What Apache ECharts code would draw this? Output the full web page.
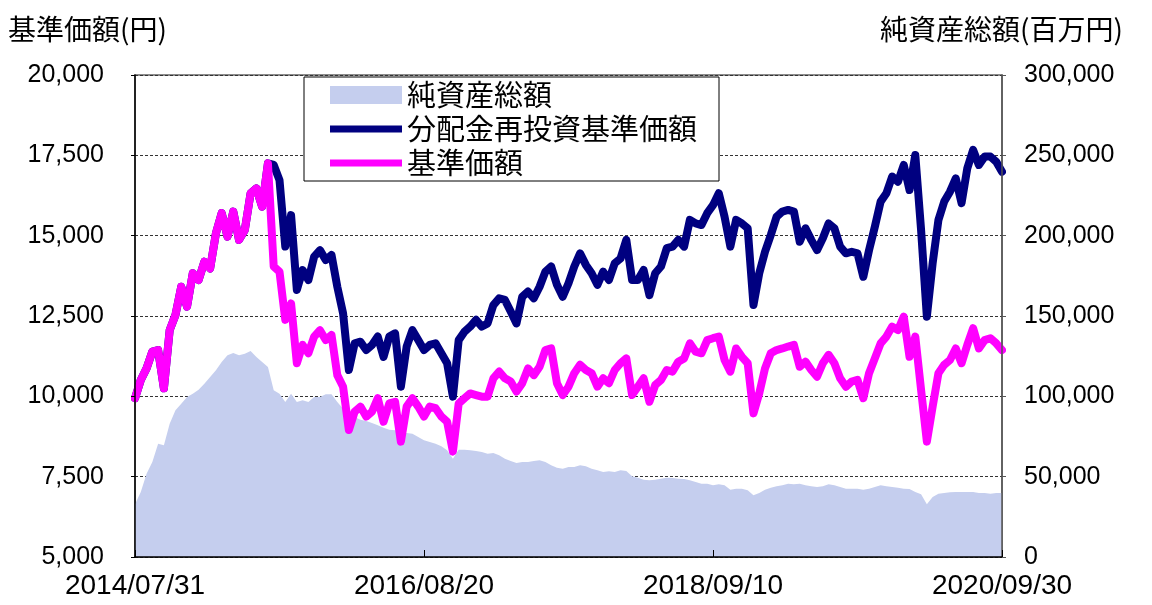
<!DOCTYPE html>
<html>
<head>
<meta charset="utf-8">
<script src="https://cdn.jsdelivr.net/npm/echarts@6/dist/echarts.min.js"></script>
<style>
html,body{margin:0;padding:0;background:#fff;}
#chart{width:1152px;height:605px;}
</style>
</head>
<body>
<div id="chart"></div>
<script>
// x tick labels (dates at index 0, 50, 100, 150)
var tickLabels = ['2014/07/31', '2016/08/20', '2018/09/10', '2020/09/30'];

// 基準価額 (円)
var priceValues = [
  9940, 10510, 10870, 11390, 11440, 10250, 12060, 12530, 13410, 12790,
  13830, 13620, 14190, 13980, 15070, 15700, 14970, 15750, 14870, 15180,
  16320, 16470, 15900, 17250, 14040, 13880, 12380, 12890, 11030, 11600,
  11340, 11860, 12060, 11750, 11910, 10660, 10300, 8950, 9520, 9680,
  9370, 9520, 9940, 9210, 9780, 9830, 8590, 9680, 9940, 9680,
  9370, 9680, 9630, 9370, 9210, 8280, 9780, 9940, 10090, 10040,
  9990, 9990, 10560, 10770, 10560, 10460, 10150, 10410, 10870, 10660,
  10920, 11440, 11490, 10410, 10040, 10300, 10720, 10980, 10820, 10720,
  10300, 10560, 10410, 10820, 11030, 11180, 10040, 10300, 10560, 9830,
  10350, 10510, 10820, 10770, 11080, 11180, 11650, 11390, 11340, 11750,
  11810, 11860, 11130, 10770, 11490, 11230, 11030, 9470, 10090, 10870,
  11340, 11440, 11490, 11550, 11600, 10920, 11080, 10820, 10610, 11030,
  11290, 11030, 10560, 10300, 10460, 10510, 9940, 10720, 11180, 11650,
  11860, 12170, 12060, 12480, 11230, 11860, 10200, 8590, 9680, 10720,
  10980, 11130, 11490, 11030, 11600, 12120, 11490, 11750, 11810, 11650,
  11440
];

// 分配金再投資基準価額 (円)
var reinvestValues = [
  9940, 10510, 10870, 11390, 11440, 10250, 12060, 12530, 13410, 12790,
  13830, 13620, 14190, 13980, 15070, 15700, 14970, 15750, 14870, 15180,
  16320, 16470, 15900, 17250, 17200, 16730, 14660, 15640, 13310, 13930,
  13620, 14350, 14550, 14240, 14400, 13410, 12580, 10820, 11650, 11700,
  11440, 11600, 11860, 11230, 11860, 11960, 10300, 11550, 12060, 11750,
  11440, 11600, 11650, 11340, 11030, 9990, 11750, 12010, 12170, 12380,
  12170, 12270, 12840, 13050, 13000, 12640, 12270, 13100, 13260, 13050,
  13410, 13880, 14040, 13470, 13100, 13520, 14040, 14450, 14090, 13830,
  13470, 13880, 13620, 14140, 14290, 14870, 13620, 13620, 13930, 13150,
  13830, 14040, 14610, 14660, 14870, 14660, 15490, 15380, 15330, 15700,
  15950, 16320, 15590, 14660, 15490, 15380, 15230, 12840, 13830, 14500,
  15020, 15590, 15750, 15800, 15750, 14810, 15230, 14870, 14550, 14920,
  15380, 15230, 14660, 14450, 14500, 14450, 13720, 14550, 15280, 16060,
  16320, 16840, 16680, 17200, 16420, 17510, 15180, 12480, 14140, 15490,
  16060, 16370, 16780, 16010, 17100, 17670, 17200, 17460, 17460, 17300,
  16990
];

// 純資産総額 (百万円)
var assetValues = [
  32780, 40460, 51870, 59130, 70540, 69500, 82990, 91290, 95440, 99590,
  101660, 104150, 107880, 112030, 116180, 121370, 125520, 126970, 125520, 126560,
  128220, 124480, 121370, 118260, 103740, 101660, 96470, 101660, 96470, 97510,
  96470, 99590, 99590, 101250, 101250, 96470, 92320, 87550, 87140, 85480,
  84650, 83400, 81950, 80500, 79250, 78840, 76760, 77180, 76760, 74690,
  72620, 71580, 70540, 68880, 66390, 61200, 66810, 66810, 66390, 65980,
  65350, 64320, 64730, 63280, 61200, 59750, 58510, 59130, 59130, 59750,
  60170, 59130, 57050, 55600, 54980, 56020, 56020, 57050, 56430, 54980,
  53940, 52910, 53320, 52910, 53940, 53530, 50210, 49380, 48130, 47720,
  48130, 48760, 49380, 49170, 48760, 48550, 47720, 46680, 45640, 45640,
  44610, 45230, 44610, 41910, 42530, 42530, 41490, 38380, 39830, 41910,
  43150, 43980, 44610, 45640, 45230, 45640, 44610, 43980, 43570, 43980,
  45230, 44610, 43570, 42530, 42530, 42530, 41910, 42530, 43570, 44610,
  43980, 43570, 43150, 42530, 42320, 40460, 39000, 32780, 37350, 39420,
  39830, 40250, 40460, 40460, 40460, 40460, 39830, 39830, 39420, 39830,
  39830
];

var seriesNames = ['純資産総額', '分配金再投資基準価額', '基準価額'];
var colors = ['#c5ceee', '#000080', '#ff00ff'];

function toPairs(arr) {
  return arr.map(function (v, i) { return [i, v]; });
}
var lastIndex = priceValues.length - 1;
var tickStep = lastIndex / (tickLabels.length - 1);

var numFont = 'Liberation Sans, Arial, sans-serif';
var cjkFont = 'Noto Sans CJK JP, sans-serif';

function fmt(v) { return v.toLocaleString('en-US'); }

var chart = echarts.init(document.getElementById('chart'), null, {renderer: 'canvas'});
var linePath = 'path://M0,0H80V8H0Z';

chart.setOption({
  animation: false,
  backgroundColor: '#ffffff',
  title: [
    {text: '基準価額(円)', left: 3, top: 10,
     textStyle: {fontSize: 28, fontWeight: 'normal', color: '#000', fontFamily: cjkFont}},
    {text: '純資産総額(百万円)', right: 24, top: 10,
     textStyle: {fontSize: 28, fontWeight: 'normal', color: '#000', fontFamily: cjkFont}}
  ],
  legend: {
    orient: 'vertical',
    left: 304, top: 77,
    padding: [3, 22, 3, 26],
    itemGap: 4,
    itemWidth: 72,
    itemHeight: 18,
    backgroundColor: '#ffffff',
    borderColor: '#000',
    borderWidth: 1,
    textStyle: {fontSize: 29, lineHeight: 30, color: '#000', fontFamily: cjkFont},
    data: [
      {name: seriesNames[0], icon: 'rect'},
      {name: seriesNames[1], icon: linePath},
      {name: seriesNames[2], icon: linePath}
    ]
  },
  grid: {left: 135, right: 150, top: 75, bottom: 48, show: true,
         borderColor: '#666', borderWidth: 1.5},
  xAxis: {
    type: 'value', min: 0, max: lastIndex, interval: tickStep, z: 10,
    axisLine: {show: true, lineStyle: {color: '#000', width: 1.5}},
    axisTick: {show: true, inside: true, length: 7, lineStyle: {color: '#000'}},
    splitLine: {show: false},
    axisLabel: {
      fontSize: 28, color: '#000', fontFamily: numFont, margin: 15,
      showMinLabel: true, showMaxLabel: true,
      formatter: function (v) { return tickLabels[Math.round(v / tickStep)] || ''; }
    }
  },
  yAxis: [
    {type: 'value', min: 5000, max: 20000, interval: 2500, position: 'left', z: 0,
     axisLine: {show: false}, axisTick: {show: false}, axisLabel: {show: false},
     splitLine: {show: true, lineStyle: {color: '#333', width: 1, type: [3, 2]}}},
    {type: 'value', min: 0, max: 300000, interval: 50000, position: 'right', z: 10,
     axisLine: {show: true, lineStyle: {color: '#555', width: 1.5}},
     axisTick: {show: true, length: 4, lineStyle: {color: '#555'}},
     splitLine: {show: false},
     axisLabel: {fontSize: 25, color: '#000', fontFamily: numFont, margin: 22, formatter: fmt}},
    {type: 'value', min: 5000, max: 20000, interval: 2500, position: 'left', z: 10,
     axisLine: {show: true, lineStyle: {color: '#000', width: 1.5}},
     axisTick: {show: true, length: 4, lineStyle: {color: '#000'}},
     splitLine: {show: false},
     axisLabel: {fontSize: 25, color: '#000', fontFamily: numFont, margin: 31, formatter: fmt}}
  ],
  series: [
    {name: seriesNames[0], type: 'line', yAxisIndex: 1, z: 1,
     data: toPairs(assetValues), symbol: 'none', color: colors[0],
     lineStyle: {width: 0, color: colors[0]},
     areaStyle: {color: colors[0], opacity: 1}},
    {name: seriesNames[1], type: 'line', yAxisIndex: 0, z: 2,
     data: toPairs(reinvestValues), symbol: 'none', color: colors[1],
     lineStyle: {width: 8, color: colors[1], cap: 'round', join: 'round'}},
    {name: seriesNames[2], type: 'line', yAxisIndex: 0, z: 3,
     data: toPairs(priceValues), symbol: 'none', color: colors[2],
     lineStyle: {width: 8, color: colors[2], cap: 'round', join: 'round'}}
  ]
});
</script>
</body>
</html>
